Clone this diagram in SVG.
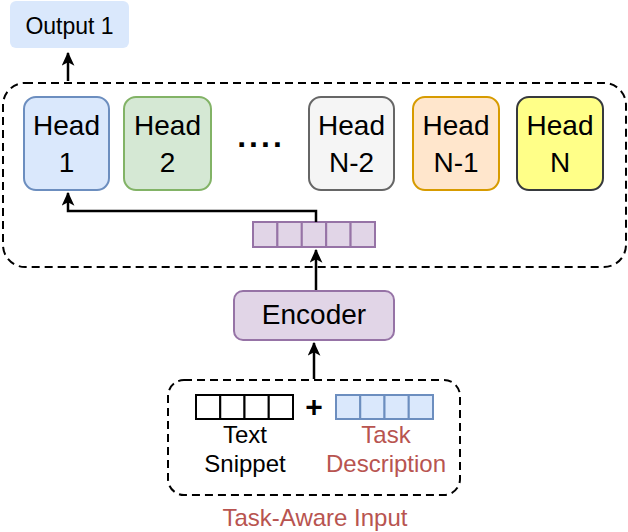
<svg xmlns="http://www.w3.org/2000/svg" width="628" height="532" viewBox="0 0 628 532">
<defs>
<marker id="arr" viewBox="0 0 12 11" refX="11" refY="5.5" markerWidth="14" markerHeight="13" orient="auto" markerUnits="userSpaceOnUse">
<path d="M0,0 L12,5.5 L0,11 L3,5.5 z" fill="#000"/>
</marker>
<style>
text{font-family:"Liberation Sans",Arial,sans-serif;text-anchor:middle;fill:#000}
.h{font-size:28px}
.o{font-size:23px}
.s{font-size:24px}
.red{fill:#b85450}
.dash{fill:none;stroke:#000;stroke-width:2;stroke-dasharray:8,5}
.con{fill:none;stroke:#000;stroke-width:2.5}
.pc{fill:#e1d5e7;stroke:#9673a6;stroke-width:2}
.bc{fill:#dae8fc;stroke:#6c8ebf;stroke-width:2}
.wc{fill:#fff;stroke:#000;stroke-width:2}
</style>
</defs>
<rect width="628" height="532" fill="#fff"/>
<g id="output1">
<rect x="10" y="1" width="119" height="47" rx="6" fill="#dae8fc"/>
<text class="o" x="69.5" y="34">Output 1</text>
</g>
<g id="heads-group">
<rect class="dash" x="3" y="83" width="623" height="184" rx="22"/>
</g>
<g id="head1">
<rect x="24" y="97" width="85" height="93" rx="12" fill="#dae8fc" stroke="#6c8ebf" stroke-width="2"/>
<text class="h" x="66.5" y="135">Head</text><text class="h" x="66.5" y="172">1</text>
</g>
<g id="head2">
<rect x="124" y="97" width="87" height="93" rx="12" fill="#d5e8d4" stroke="#82b366" stroke-width="2"/>
<text class="h" x="167.5" y="135">Head</text><text class="h" x="167.5" y="172">2</text>
</g>
<g id="dots"><text x="261" y="147" style="font-size:32px;font-weight:bold;letter-spacing:3px">....</text></g>
<g id="headN-2">
<rect x="309" y="97" width="85" height="93" rx="12" fill="#f5f5f5" stroke="#666666" stroke-width="2"/>
<text class="h" x="351.5" y="135">Head</text><text class="h" x="351.5" y="172">N-2</text>
</g>
<g id="headN-1">
<rect x="413" y="97" width="86" height="93" rx="12" fill="#ffe6cc" stroke="#d79b00" stroke-width="2"/>
<text class="h" x="456" y="135">Head</text><text class="h" x="456" y="172">N-1</text>
</g>
<g id="headN">
<rect x="517" y="97" width="86" height="93" rx="12" fill="#ffff88" stroke="#36393d" stroke-width="2"/>
<text class="h" x="560" y="135">Head</text><text class="h" x="560" y="172">N</text>
</g>
<g id="embedding">
<rect class="pc" x="253" y="222" width="24.4" height="25"/>
<rect class="pc" x="277.4" y="222" width="24.4" height="25"/>
<rect class="pc" x="301.8" y="222" width="24.4" height="25"/>
<rect class="pc" x="326.2" y="222" width="24.4" height="25"/>
<rect class="pc" x="350.6" y="222" width="24.4" height="25"/>
</g>
<g id="encoder">
<rect x="234" y="291" width="160" height="49" rx="9" fill="#e1d5e7" stroke="#9673a6" stroke-width="2"/>
<text class="h" x="314" y="324">Encoder</text>
</g>
<g id="input">
<rect class="dash" x="168" y="380" width="292" height="115" rx="16"/>
<rect class="wc" x="196" y="395" width="24.25" height="24"/>
<rect class="wc" x="220.25" y="395" width="24.25" height="24"/>
<rect class="wc" x="244.5" y="395" width="24.25" height="24"/>
<rect class="wc" x="268.75" y="395" width="24.25" height="24"/>
<text x="314" y="417" style="font-size:30px;font-weight:bold">+</text>
<rect class="bc" x="336" y="395" width="24.25" height="24"/>
<rect class="bc" x="360.25" y="395" width="24.25" height="24"/>
<rect class="bc" x="384.5" y="395" width="24.25" height="24"/>
<rect class="bc" x="408.75" y="395" width="24.25" height="24"/>
<text class="s" x="245" y="443">Text</text>
<text class="s" x="245" y="472">Snippet</text>
<text class="s red" x="386" y="443">Task</text>
<text class="s red" x="386" y="472">Description</text>
</g>
<g id="input-label"><text class="s red" x="315" y="526">Task-Aware Input</text></g>
<g id="connectors">
<path class="con" d="M68,81 L68,53" marker-end="url(#arr)"/>
<path class="con" d="M316,222 L316,211 L68,211 L68,193" marker-end="url(#arr)"/>
<path class="con" d="M316,290 L316,250" marker-end="url(#arr)"/>
<path class="con" d="M314,379 L314,343" marker-end="url(#arr)"/>
</g>
</svg>
